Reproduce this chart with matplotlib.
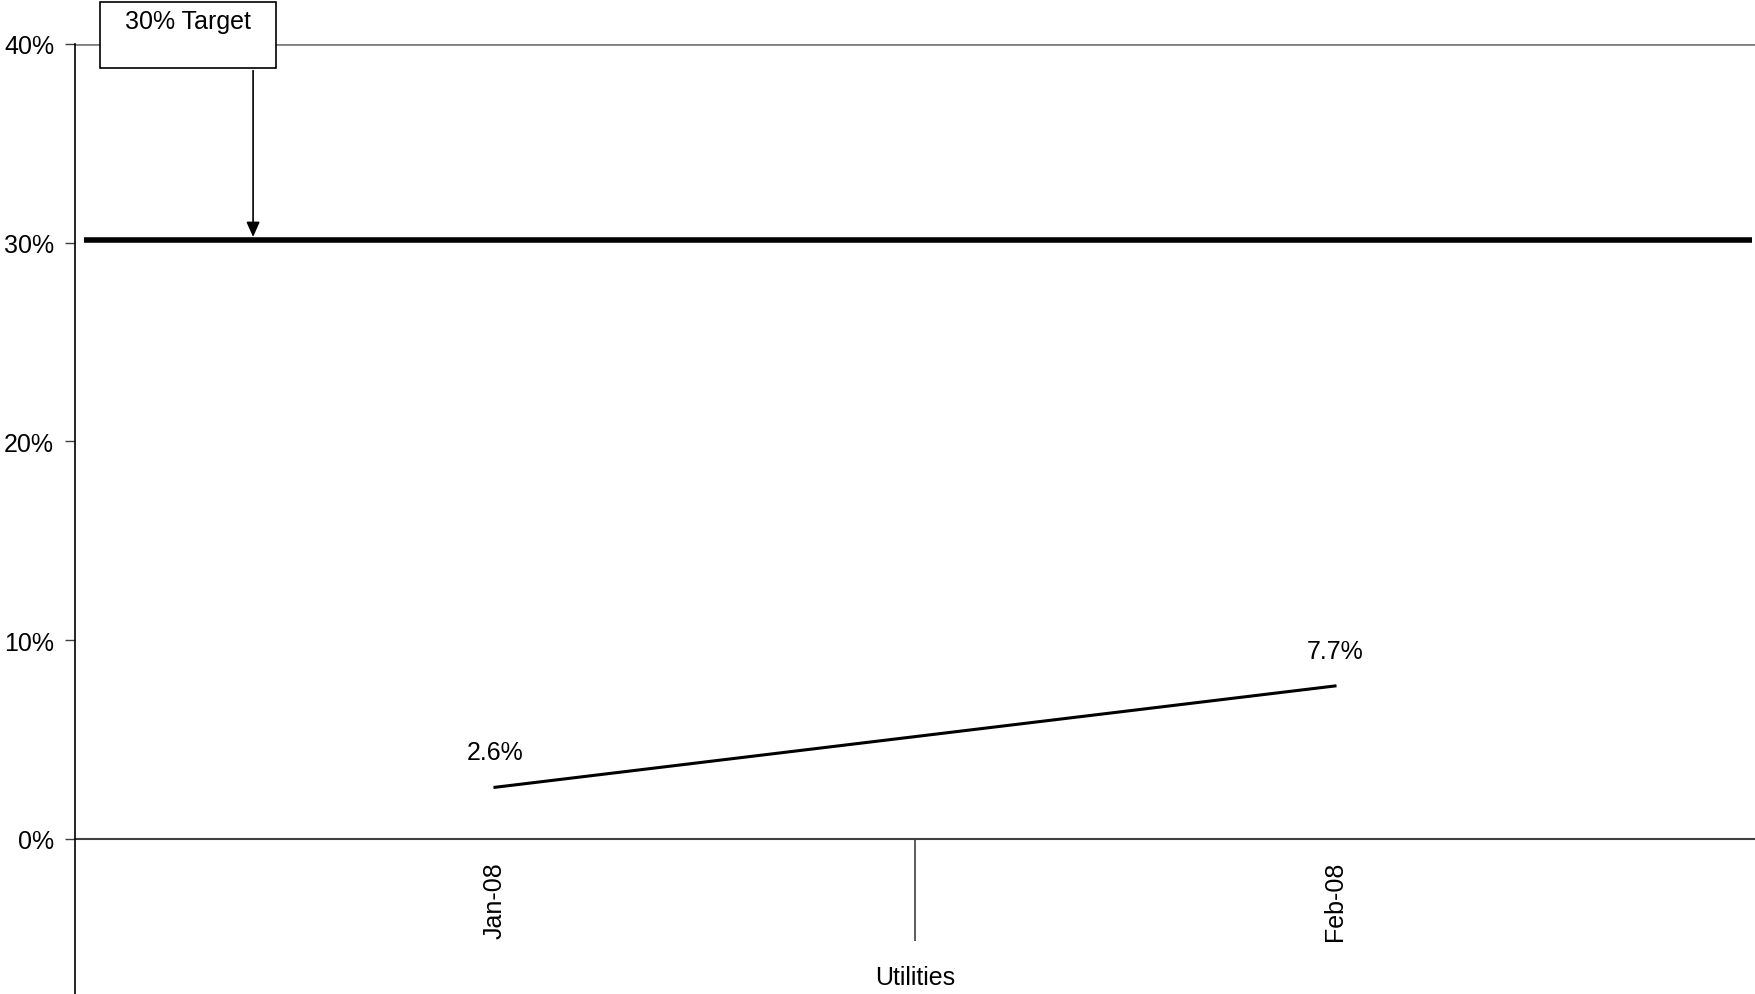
import matplotlib as mpl
mpl.use("Agg")
import matplotlib.pyplot as plt
from matplotlib.patches import Rectangle

plt.rcParams["font.family"] = ["Liberation Sans", "DejaVu Sans"]

months = ["Jan-08", "Feb-08"]
values = [0.026, 0.077]
value_labels = ["2.6%", "7.7%"]
category = "Utilities"
target = 0.30
target_label = "30% Target"
y_ticks = [0.0, 0.1, 0.2, 0.3, 0.4]
y_tick_labels = ["0%", "10%", "20%", "30%", "40%"]

FS = 18

fig = plt.figure(figsize=(17.55, 9.95), dpi=100)
ax = fig.add_axes([75 / 1755, 0, 1 - 75 / 1755, 1 - 45 / 995])

xs = [0.5, 1.5]
ax.set_xlim(0, 2)
ax.set_ylim(-0.078, 0.40)

# reference lines
ax.axhline(0.40, color="#808080", lw=2, zorder=1)
ax.axhline(0.0, color="#404040", lw=1.5, zorder=1)
ax.hlines(target + 0.0015, 0.0107, 1.996, color="black", lw=4, zorder=3)

# series
ax.plot(xs, values, color="black", lw=2.2, zorder=4)
for x, v, lab in zip(xs, values, value_labels):
    ax.text(x, v + 0.0115, lab, ha="center", va="bottom", fontsize=FS)

# category axis
ax.vlines(1.0, -0.0513, 0, color="#404040", lw=1.2)
for x, m in zip(xs, months):
    ax.text(x, -0.0307, m, rotation=90, ha="center", va="center", fontsize=FS)
ax.text(1.0, -0.0694, category, ha="center", va="center", fontsize=FS)

# target callout
box = Rectangle((0.0298, 0.388), 0.209, 0.033, facecolor="white",
                edgecolor="black", lw=1.2, clip_on=False, zorder=5)
ax.add_patch(box)
ax.text(0.1345, 0.4115, target_label, ha="center", va="center", fontsize=FS,
        zorder=6, clip_on=False)
ax.annotate("", xy=(0.212, target + 0.0015), xytext=(0.212, 0.388),
            arrowprops=dict(arrowstyle="-|>,head_length=0.9,head_width=0.4",
                            color="black", lw=1.2), zorder=5)

ax.set_yticks(y_ticks)
ax.set_yticklabels(y_tick_labels, fontsize=FS)
ax.set_xticks([])
ax.tick_params(axis="y", length=7, width=1, color="#404040", pad=8)
for s in ["top", "right", "bottom"]:
    ax.spines[s].set_visible(False)
ax.spines["left"].set_linewidth(1.2)

fig.savefig("out.png", dpi=100)
